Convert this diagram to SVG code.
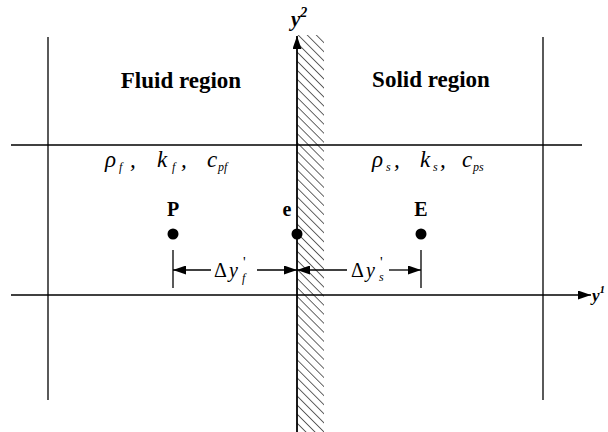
<svg xmlns="http://www.w3.org/2000/svg" width="608" height="432" viewBox="0 0 608 432">
<style>
.ln{stroke:#000;stroke-width:1.3;fill:none}
.t{font-family:"Liberation Serif",serif;fill:#000}
.b{font-weight:bold}
.h{font-weight:bold;font-size:23px}
.i{font-style:italic}
.g{font-style:italic;font-size:23px}
.sb{font-style:italic;font-size:12px}
.pr{font-size:15px}
</style>
<defs>
<pattern id="hatch" patternUnits="userSpaceOnUse" width="6.4" height="6.4" patternTransform="rotate(-45)">
<line x1="0" y1="0" x2="0" y2="6.4" stroke="#000" stroke-width="1.2"/>
</pattern>
<marker id="ah" markerWidth="13" markerHeight="9" refX="13" refY="4.5" orient="auto" markerUnits="userSpaceOnUse">
<path d="M0,0 L13,4.5 L0,9 Z" fill="#000"/>
</marker>
</defs>
<g id="frame">
<line class="ln" x1="48" y1="37" x2="48" y2="400"/>
<line class="ln" x1="543" y1="37" x2="543" y2="400"/>
<line class="ln" x1="11" y1="145" x2="582" y2="145"/>
</g>
<g id="wall">
<rect x="297" y="35" width="27" height="397" fill="url(#hatch)"/>
</g>
<g id="connectors">
<line class="ln" x1="297" y1="432" x2="297" y2="36" marker-end="url(#ah)" style="stroke-width:1.8"/>
<line class="ln" x1="11" y1="295" x2="591" y2="295" marker-end="url(#ah)"/>
<line class="ln" x1="173" y1="250" x2="173" y2="288"/>
<line class="ln" x1="421" y1="250" x2="421" y2="288"/>
<line class="ln" x1="211" y1="270" x2="173" y2="270" marker-end="url(#ah)"/>
<line class="ln" x1="257" y1="270" x2="297" y2="270" marker-end="url(#ah)"/>
<line class="ln" x1="347" y1="270" x2="297" y2="270" marker-end="url(#ah)"/>
<line class="ln" x1="389" y1="270" x2="421" y2="270" marker-end="url(#ah)"/>
</g>
<g id="labels">
<text class="t b i" x="291" y="26" font-size="21">y<tspan font-size="14" dy="-9">2</tspan></text>
<text class="t b i" x="592" y="301" font-size="17">y<tspan font-size="11" dy="-8">1</tspan></text>
<text class="t h" x="181" y="88" text-anchor="middle">Fluid region</text>
<text class="t h" x="431" y="87" text-anchor="middle">Solid region</text>
<text class="t g" x="105" y="167">ρ</text>
<text class="t sb" x="119" y="171">f</text>
<text class="t g" x="130" y="167">,</text>
<text class="t g" x="157" y="167">k</text>
<text class="t sb" x="172" y="171">f</text>
<text class="t g" x="181" y="167">,</text>
<text class="t g" x="207" y="167">c</text>
<text class="t sb" x="218" y="171">pf</text>
<text class="t g" x="372" y="167">ρ</text>
<text class="t sb" x="386" y="171">s</text>
<text class="t g" x="394" y="167">,</text>
<text class="t g" x="420" y="167">k</text>
<text class="t sb" x="433" y="171">s</text>
<text class="t g" x="440" y="167">,</text>
<text class="t g" x="462" y="167">c</text>
<text class="t sb" x="473" y="171">ps</text>
</g>
<g id="P">
<text class="t b" x="173" y="216" font-size="20" text-anchor="middle">P</text>
<circle cx="173" cy="234" r="5.5"/>
</g>
<g id="e">
<text class="t b" x="287" y="216" font-size="20" text-anchor="middle">e</text>
<circle cx="297" cy="234" r="5.5"/>
</g>
<g id="E">
<text class="t b" x="421" y="216" font-size="20" text-anchor="middle">E</text>
<circle cx="421" cy="234" r="5.5"/>
</g>
<g id="dims">
<text class="t" x="214" y="277" font-size="20">Δ</text>
<text class="t i" x="229" y="277" font-size="20">y</text>
<text class="t pr" x="243" y="267">'</text>
<text class="t sb" x="242" y="282" font-size="13">f</text>
<text class="t" x="351" y="277" font-size="20">Δ</text>
<text class="t i" x="366" y="277" font-size="20">y</text>
<text class="t pr" x="380" y="267">'</text>
<text class="t sb" x="379" y="281">s</text>
</g>
</svg>
